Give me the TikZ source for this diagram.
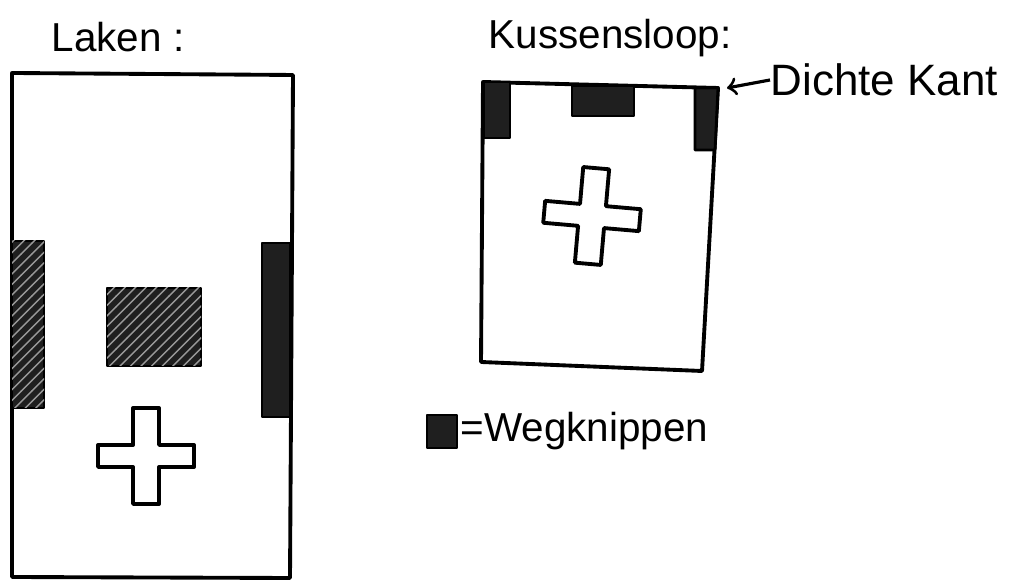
\documentclass[tikz,border=0pt]{standalone}
\usepackage{fontspec}
\setmainfont{Liberation Sans}
\usepackage{tikz}
\usetikzlibrary{positioning, arrows, patterns}

\begin{document}
\begin{tikzpicture}[x=0.1mm, y=-0.1mm, line join=round,
    outline/.style={draw, line width=1.1pt},
    cutout/.style={draw, line width=0.8pt, fill=black!88},
    hatched/.style={cutout, postaction={pattern=north east lines, pattern color=black!40}},
    title/.style={inner sep=0pt},
    kruis/.pic={
      \draw[outline, fill=white] (-13,-48) -- (13,-48) -- (13,-11) -- (48,-11) -- (48,11)
        -- (13,11) -- (13,48) -- (-13,48) -- (-13,11) -- (-48,11) -- (-48,-11)
        -- (-13,-11) -- cycle;
    }]
   \useasboundingbox (0,0) rectangle (1019,581);
   % laken
   \node[title, font=\fontsize{11.5}{14}\selectfont] (laken) at (118,37) {Laken :};
   \draw[outline] (12,73) -- (293,75) -- (290,578) -- (12,577) -- cycle;
   \draw[hatched] (12,241) rectangle (44,408);
   \draw[cutout] (262,243) rectangle (290,417);
   \draw[hatched] (107,288) rectangle (201,366);
   \pic at (146,456) {kruis};
   % kussensloop
   \node[title, font=\fontsize{11.5}{14}\selectfont] (kussen) at (610,38) {Kussensloop:};
   \draw[outline] (483,82) -- (718,88) -- (702,371) -- (481,362) -- cycle;
   \draw[cutout] (484,82) rectangle (510,138);
   \draw[cutout] (572,86) rectangle (634,116);
   \draw[cutout] (695,88) -- (718,88) -- (715,150) -- (695,150) -- cycle;
   \pic[rotate=-5] at (592,216) {kruis};
   \coordinate (kant) at (727,88);
   \node[title, font=\fontsize{12.5}{15}\selectfont, anchor=west] (dichte) at (770,80) {Dichte Kant};
   \draw[->, >=to, line width=0.9pt] (dichte.west) -- (kant);
   % legenda
   \draw[cutout] (427,415) rectangle (457,448);
   \node[title, font=\fontsize{11.5}{14}\selectfont, anchor=south west] (weg) at (460,451) {=Wegknippen};
\end{tikzpicture}
\end{document}
